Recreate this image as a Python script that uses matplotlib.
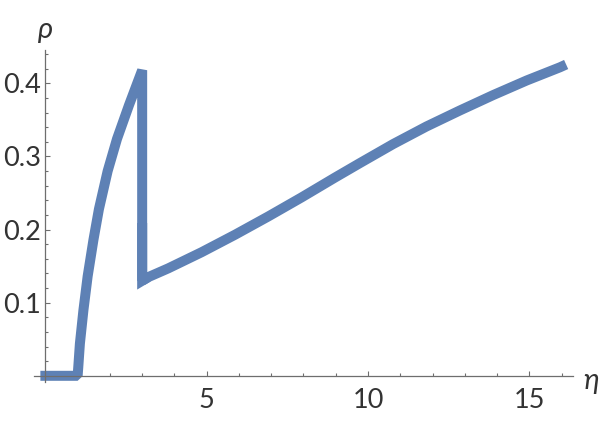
import numpy as np
import matplotlib.pyplot as plt
from matplotlib.ticker import MultipleLocator

# values
eta_a = [0.0, 1.0, 1.02, 1.07, 1.18, 1.31, 1.49, 1.66, 1.93, 2.22, 2.59, 2.88, 3.0]
rho_a = [0.0, 0.0, 0.012, 0.044, 0.090, 0.136, 0.186, 0.228, 0.280, 0.324, 0.370, 0.404, 0.418]

eta_b = [3.0, 3.19, 3.81, 4.84, 5.88, 6.91, 7.94, 8.97, 9.75, 10.78, 11.81,
         12.85, 13.88, 14.92, 15.95, 16.0]
rho_b = [0.130, 0.135, 0.147, 0.169, 0.193, 0.218, 0.244, 0.271, 0.291, 0.317,
         0.341, 0.363, 0.384, 0.404, 0.422, 0.423]

eta = eta_a + eta_b
rho = rho_a + rho_b

plt.rcParams['font.family'] = ['Lato', 'DejaVu Sans']

fig = plt.figure(figsize=(6, 4.22), dpi=100)
ax = fig.add_axes([0.0568, 0.0956, 0.898, 0.786])

blue = '#5E81B5'
ax.plot(eta, rho, color=blue, lw=7.2, solid_capstyle='projecting',
        solid_joinstyle='bevel')
# sharp corner at the bottom of the jump
ax.plot([eta_b[0], eta_b[0], eta_b[1]], [rho_a[-1] * 0.5, rho_b[0], rho_b[1]],
        color=blue, lw=7.2, solid_capstyle='butt', solid_joinstyle='miter')

ax.set_xlim(-0.35, 16.35)
ax.set_ylim(-0.008, 0.4457)

for s in ['top', 'right']:
    ax.spines[s].set_visible(False)
ax.spines['left'].set_position(('data', 0))
ax.spines['bottom'].set_position(('data', 0))
for s in ['left', 'bottom']:
    ax.spines[s].set_color('#6e6e6e')
    ax.spines[s].set_linewidth(0.9)

ax.xaxis.set_minor_locator(MultipleLocator(1))
ax.yaxis.set_minor_locator(MultipleLocator(0.02))
ax.set_xticks([5, 10, 15])
ax.set_xticklabels(['5', '10', '15'])
ax.set_yticks([0.1, 0.2, 0.3, 0.4])
ax.set_yticklabels(['0.1', '0.2', '0.3', '0.4'])

ax.tick_params(which='both', direction='in', color='#6e6e6e', width=0.8,
               labelsize=19.5, labelcolor='#333333')
ax.tick_params(which='major', length=3.3)
ax.tick_params(which='minor', length=2.0)
ax.tick_params(axis='x', pad=9)
ax.tick_params(axis='y', pad=3)

fig.text(45.5 / 600, 1 - 30 / 422, 'ρ', fontsize=21, style='italic',
         color='#333333', ha='center', va='center')
fig.text(591 / 600, 1 - 381 / 422, 'η', fontsize=21, style='italic',
         color='#333333', ha='center', va='center')

fig.savefig('out.png', dpi=100)
